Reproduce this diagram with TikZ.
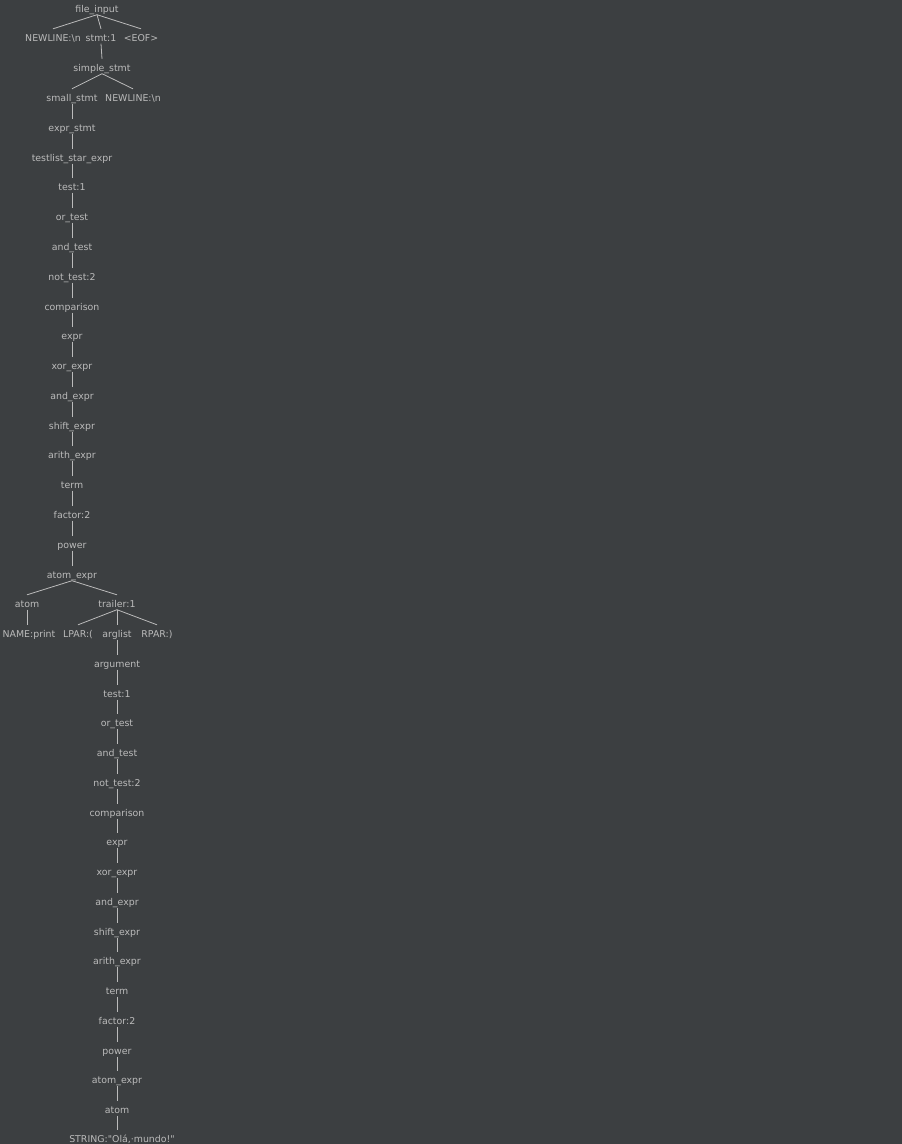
\documentclass[tikz,border=0pt]{standalone}
\usepackage{fontspec}
\usetikzlibrary{calc}
\setmainfont{DejaVu Sans}[Ligatures=TeXOff]
\definecolor{panel}{HTML}{3C3F41}
\definecolor{ink}{HTML}{BBBBBB}
\begin{document}
\begin{tikzpicture}[x=1pt,y=-1pt,
  tok/.style={anchor=base,inner sep=0pt,text height=12.5pt,text depth=2pt,
              text=ink,font=\fontsize{9.4}{11}\selectfont},
  link/.style={draw=ink,line width=0.8pt}]
\fill[panel] (0,0) rectangle (902,1144);
\useasboundingbox (0,0) rectangle (902,1144);
% top of the parse tree
\node[tok] (fi)  at (97,12.5)  {file\_input};
\node[tok] (nl1) at (53,41.5)  {NEWLINE:\textbackslash n};
\node[tok] (st)  at (101,41.5) {stmt:1};
\node[tok] (eof) at (141,41.5) {<EOF>};
\node[tok] (ss)  at (102,71.5) {simple\_stmt};
\node[tok] (sm)  at (72,101.5) {small\_stmt};
\node[tok] (nl2) at (133,101.5) {NEWLINE:\textbackslash n};
% first expression chain
\node[tok] (a1)  at (72,131.5) {expr\_stmt};
\node[tok] (a2)  at (72,161.5) {testlist\_star\_expr};
\node[tok] (a3)  at (72,190.5) {test:1};
\node[tok] (a4)  at (72,220.5) {or\_test};
\node[tok] (a5)  at (72,250.5) {and\_test};
\node[tok] (a6)  at (72,280.5) {not\_test:2};
\node[tok] (a7)  at (72,310.5) {comparison};
\node[tok] (a8)  at (72,339.5) {expr};
\node[tok] (a9)  at (72,369.5) {xor\_expr};
\node[tok] (a10) at (72,399.5) {and\_expr};
\node[tok] (a11) at (72,429.5) {shift\_expr};
\node[tok] (a12) at (72,458.5) {arith\_expr};
\node[tok] (a13) at (72,488.5) {term};
\node[tok] (a14) at (72,518.5) {factor:2};
\node[tok] (a15) at (72,548.5) {power};
\node[tok] (a16) at (72,578.5) {atom\_expr};
% call: atom + trailer
\node[tok] (at)  at (27,607.5) {atom};
\node[tok] (tr)  at (117,607.5) {trailer:1};
\node[tok] (nm)  at (29,637.5) {NAME:print};
\node[tok] (lp)  at (78,637.5) {LPAR:(};
\node[tok] (al)  at (117,637.5) {arglist};
\node[tok] (rp)  at (157,637.5) {RPAR:)};
% argument chain
\node[tok] (b1)  at (117,667.5) {argument};
\node[tok] (b2)  at (117,697.5) {test:1};
\node[tok] (b3)  at (117,726.5) {or\_test};
\node[tok] (b4)  at (117,756.5) {and\_test};
\node[tok] (b5)  at (117,786.5) {not\_test:2};
\node[tok] (b6)  at (117,816.5) {comparison};
\node[tok] (b7)  at (117,845.5) {expr};
\node[tok] (b8)  at (117,875.5) {xor\_expr};
\node[tok] (b9)  at (117,905.5) {and\_expr};
\node[tok] (b10) at (117,935.5) {shift\_expr};
\node[tok] (b11) at (117,964.5) {arith\_expr};
\node[tok] (b12) at (117,994.5) {term};
\node[tok] (b13) at (117,1024.5) {factor:2};
\node[tok] (b14) at (117,1054.5) {power};
\node[tok] (b15) at (117,1083.5) {atom\_expr};
\node[tok] (b16) at (117,1113.5) {atom};
\node[tok] (b17) at (122,1142.5) {STRING:"Olá,·mundo!"};
% edges
\foreach \c in {nl1,st,eof} \draw[link] (fi.south) -- (\c.north);
\draw[link] (st.south) -- (ss.north);
\foreach \c in {sm,nl2} \draw[link] (ss.south) -- (\c.north);
\draw[link] (sm.south) -- (a1.north);
\foreach \p/\c in {a1/a2,a2/a3,a3/a4,a4/a5,a5/a6,a6/a7,a7/a8,a8/a9,a9/a10,
                   a10/a11,a11/a12,a12/a13,a13/a14,a14/a15,a15/a16}
  \draw[link] (\p.south) -- (\c.north);
\foreach \c in {at,tr} \draw[link] (a16.south) -- (\c.north);
\draw[link] (at.south) -- ($(nm.north)+(-2,0)$);
\foreach \c in {lp,al,rp} \draw[link] (tr.south) -- (\c.north);
\draw[link] (al.south) -- (b1.north);
\foreach \p/\c in {b1/b2,b2/b3,b3/b4,b4/b5,b5/b6,b6/b7,b7/b8,b8/b9,b9/b10,
                   b10/b11,b11/b12,b12/b13,b13/b14,b14/b15,b15/b16}
  \draw[link] (\p.south) -- (\c.north);
\draw[link] (b16.south) -- ($(b17.north)+(-5,0)$);
\end{tikzpicture}
\end{document}
